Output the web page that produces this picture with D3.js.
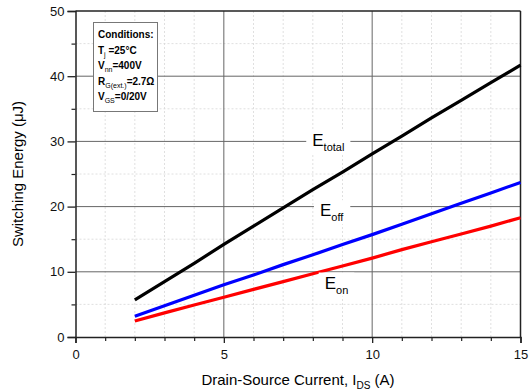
<!DOCTYPE html>
<html><head><meta charset="utf-8">
<script src="https://cdnjs.cloudflare.com/ajax/libs/d3/7.8.5/d3.min.js"></script>
<style>
body{margin:0;background:#fff;}
text{font-family:"Liberation Sans",Arial,sans-serif;}
</style></head>
<body><svg id="c" width="532" height="392"></svg>
<script>
const current = [2,3,4,5,6,7,8,9,10,11,12,13,14,15];
const eTotal = [5.7,8.5,11.3,14.2,17.0,19.8,22.6,25.3,28.1,30.8,33.6,36.3,39.0,41.7];
const eOff   = [3.2,4.8,6.4,8.0,9.5,11.1,12.6,14.2,15.7,17.3,18.9,20.5,22.1,23.7];
const eOn    = [2.45,3.7,4.9,6.1,7.3,8.5,9.7,10.9,12.1,13.4,14.6,15.8,17.0,18.3];
const xTicks = [0,5,10,15];
const yTicks = [0,10,20,30,40,50];
const xMinor = [1,2,3,4,6,7,8,9,11,12,13,14];
const yMinor = [5,15,25,35,45];
const conditions = ["Conditions:","T|j| =25°C","V|nn|=400V","R|G(ext.)|=2.7Ω","V|GS|=0/20V"];

const svg = d3.select("#c");
const L=75.5, R=520.5, T=11, B=337;
const x = d3.scaleLinear().domain([0,15]).range([L,R]);
const y = d3.scaleLinear().domain([0,50]).range([B,T]);

// minor grid
svg.append("g").selectAll("line").data(xMinor).join("line")
  .attr("x1",d=>x(d)).attr("x2",d=>x(d)).attr("y1",T).attr("y2",B)
  .attr("stroke","#d8d8d8").attr("stroke-width",0.8).attr("stroke-dasharray","2,2");
svg.append("g").selectAll("line").data(yMinor).join("line")
  .attr("y1",d=>y(d)).attr("y2",d=>y(d)).attr("x1",L).attr("x2",R)
  .attr("stroke","#d8d8d8").attr("stroke-width",0.8).attr("stroke-dasharray","2,2");
// major grid
svg.append("g").selectAll("line").data(xTicks.slice(1,-1)).join("line")
  .attr("x1",d=>x(d)).attr("x2",d=>x(d)).attr("y1",T).attr("y2",B)
  .attr("stroke","#666").attr("stroke-width",1);
svg.append("g").selectAll("line").data(yTicks.slice(1,-1)).join("line")
  .attr("y1",d=>y(d)).attr("y2",d=>y(d)).attr("x1",L).attr("x2",R)
  .attr("stroke","#666").attr("stroke-width",1);

// axes
const xAxis = d3.axisBottom(x).tickValues(xTicks).tickSize(6).tickPadding(4).tickFormat(d3.format("d"));
const yAxis = d3.axisLeft(y).tickValues(yTicks).tickSize(8).tickPadding(3).tickFormat(d3.format("d"));
const gx = svg.append("g").attr("transform",`translate(0,${B})`).call(xAxis);
const gy = svg.append("g").attr("transform",`translate(${L},0)`).call(yAxis);
[gx,gy].forEach(g=>{
  g.select(".domain").attr("stroke","#222").attr("stroke-width",1.5);
  g.selectAll(".tick line").attr("stroke","#222").attr("stroke-width",1.3);
  g.selectAll(".tick text").attr("fill","#111").style("font-size","13px");
});
gx.selectAll(".tick text").attr("dy","0.9em");
svg.append("g").attr("transform",`translate(0,${B})`)
  .call(d3.axisBottom(x).tickValues(xMinor).tickSize(4).tickFormat(""))
  .call(g=>{g.select(".domain").remove(); g.selectAll("line").attr("stroke","#222").attr("stroke-width",1.2);});
svg.append("g").attr("transform",`translate(${L},0)`)
  .call(d3.axisLeft(y).tickValues(yMinor).tickSize(4).tickFormat(""))
  .call(g=>{g.select(".domain").remove(); g.selectAll("line").attr("stroke","#222").attr("stroke-width",1.2);});
// top/right frame
svg.append("line").attr("x1",L).attr("x2",R).attr("y1",T).attr("y2",T).attr("stroke","#222").attr("stroke-width",1.5);
svg.append("line").attr("x1",R).attr("x2",R).attr("y1",T).attr("y2",B).attr("stroke","#222").attr("stroke-width",1.5);

// series
const line = d3.line().x((d,i)=>x(current[i])).y(d=>y(d));
[[eTotal,"#000"],[eOff,"#0000ff"],[eOn,"#ff0000"]].forEach(([s,c])=>{
  svg.append("path").datum(s).attr("d",line).attr("fill","none")
    .attr("stroke",c).attr("stroke-width",3.2);
});

// series labels
function sublabel(px,py,main,sub){
  const t = svg.append("text").attr("x",px).attr("y",py).attr("fill","#000").style("font-size","17px");
  t.append("tspan").text(main);
  t.append("tspan").attr("dy",5).style("font-size","11px").text(sub);
  const bb = t.node().getBBox();
  svg.insert("rect",()=>t.node()).attr("x",bb.x-6).attr("y",bb.y-1).attr("width",bb.width+12).attr("height",bb.height+2).attr("fill","#fff");
}
sublabel(x(7.98),y(30)+5,"E","total");
sublabel(x(8.24),y(19.3)+5,"E","off");
sublabel(x(8.4),y(8.2)+5,"E","on");

// conditions box
svg.append("rect").attr("x",93.5).attr("y",22.5).attr("width",64).attr("height",89)
  .attr("fill","#fff").attr("stroke","#777").attr("stroke-width",1);
conditions.forEach((c,i)=>{
  const parts = c.split("|");
  const t = svg.append("text").attr("x",98).attr("y",38+i*15.5).attr("fill","#000")
    .style("font-size","10px").style("font-weight","bold");
  t.append("tspan").text(parts[0]);
  if(parts.length>1){
    t.append("tspan").attr("dy",3).style("font-size","7px").style("font-weight","normal").text(parts[1]);
    t.append("tspan").attr("dy",-3).text(parts[2]);
  }
});

// axis titles
svg.append("text").attr("x",(L+R)/2).attr("y",385).attr("text-anchor","middle").style("font-size","15px").attr("fill","#000")
  .call(t=>{t.append("tspan").text("Drain-Source Current, I");
            t.append("tspan").attr("dy",4).style("font-size","10px").text("DS");
            t.append("tspan").attr("dy",-4).text(" (A)");});
svg.append("text").attr("transform",`translate(23,${(T+B)/2}) rotate(-90)`).attr("text-anchor","middle")
  .style("font-size","15px").attr("fill","#000").text("Switching Energy (μJ)");
</script></body></html>
